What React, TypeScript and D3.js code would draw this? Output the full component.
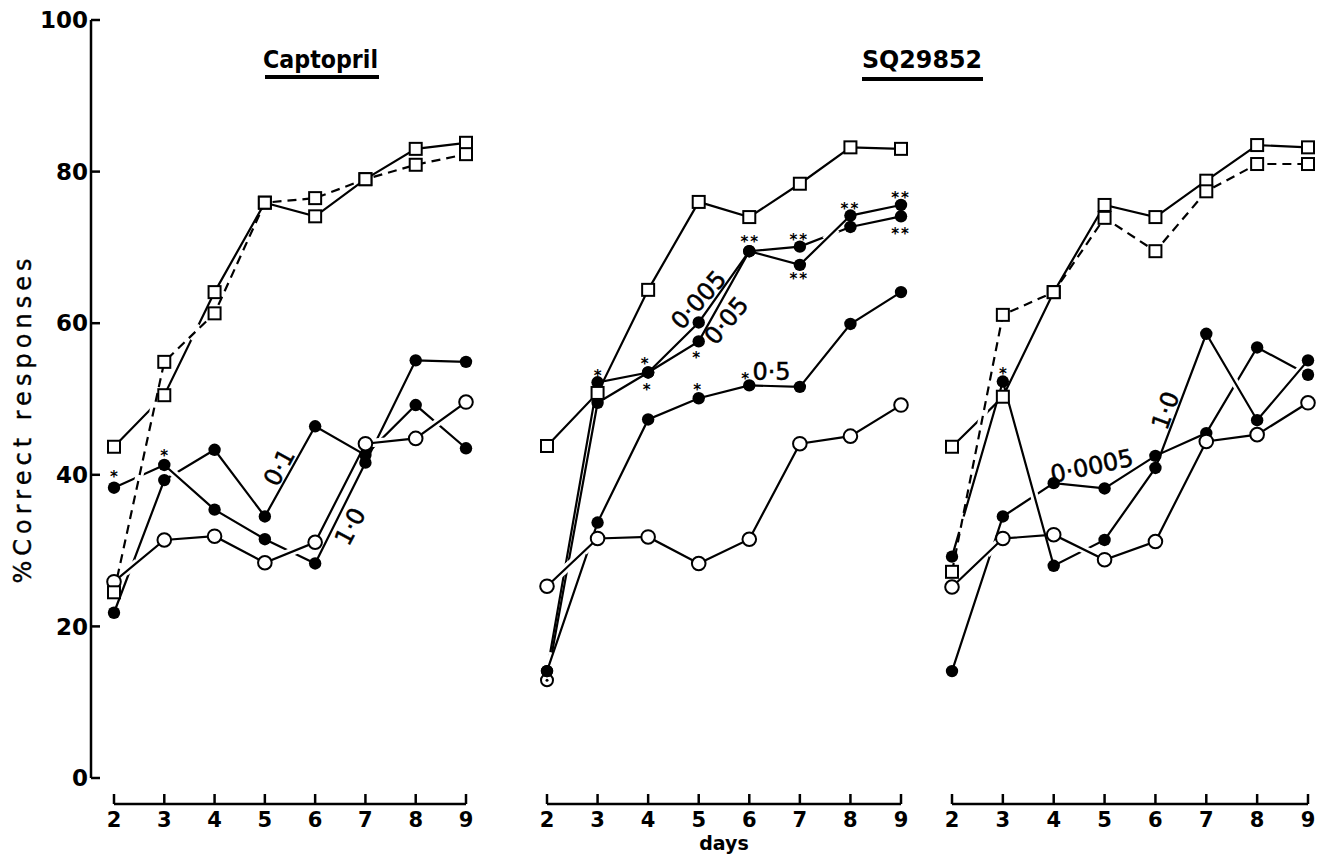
import React from 'react';
import * as d3 from 'd3';

// ---------------- DATA ----------------
const days = [2, 3, 4, 5, 6, 7, 8, 9];
const yTicks = [0, 20, 40, 60, 80, 100];
const yLabel = '%Correct responses';
const xLabel = 'days';

// Panel 1: Captopril
const capControlSolid = [43.7, 50.5, 64.1, 75.9, 74.1, 79.0, 83.0, 83.8];
const capControlDashed = [24.5, 54.9, 61.3, 75.9, 76.5, 79.0, 80.9, 82.3];
const capSaline = [25.9, 31.4, 31.9, 28.4, 31.1, 44.1, 44.8, 49.6];
const capDose01 = [21.8, 39.3, 43.3, 34.5, 46.4, 42.6, 49.2, 43.5];
const capDose10 = [38.3, 41.3, 35.4, 31.5, 28.3, 41.6, 55.1, 54.9];

// Panel 2: SQ29852 (left)
const sqControl = [43.8, 50.8, 64.4, 76.0, 74.0, 78.4, 83.2, 83.0];
const sqSaline = [25.3, 31.6, 31.8, 28.3, 31.5, 44.1, 45.1, 49.2];
const sqDose0005 = [14.1, 52.2, 53.5, 60.1, 69.5, 70.1, 72.7, 74.1];
const sqDose005 = [12.9, 49.5, 53.5, 57.6, 69.5, 67.7, 74.2, 75.6];
const sqDose05 = [14.1, 33.7, 47.3, 50.1, 51.8, 51.6, 59.9, 64.1];

// Panel 3: SQ29852 (right)
const sq2ControlSolid = [43.7, 50.3, 64.1, 75.6, 74.0, 78.8, 83.5, 83.2];
const sq2ControlDashed = [27.2, 61.1, 64.1, 73.9, 69.5, 77.4, 81.0, 81.0];
const sq2Saline = [25.2, 31.6, 32.1, 28.8, 31.2, 44.4, 45.3, 49.5];
const sq2Dose00005 = [14.1, 34.5, 38.9, 38.2, 42.5, 45.5, 56.8, 53.2];
const sq2Dose10 = [29.2, 52.3, 28.0, 31.4, 40.9, 58.6, 47.2, 55.1];

// curve labels: [text, day, value, rotation]
const capLabels: [string, number, number, number][] = [
  ['0·1', 5.28, 41.0, -61],
  ['1·0', 6.69, 33.2, -62],
];
const sqLabels: [string, number, number, number][] = [
  ['0·005', 4.99, 63.1, -48],
  ['0·05', 5.54, 60.4, -50],
  ['0·5', 6.44, 53.6, 0],
];
const sq2Labels: [string, number, number, number][] = [
  ['0·0005', 4.75, 41.2, -12],
  ['1·0', 6.19, 48.5, -70],
];

// significance marks: [text, day, value]
const capStars: [string, number, number][] = [
  ['*', 2, 40.2],
  ['*', 3, 43.0],
];
const sqStars: [string, number, number][] = [
  ['*', 3, 53.6],
  ['*', 3.93, 55.1],
  ['*', 3.97, 51.7],
  ['*', 4.95, 55.9],
  ['*', 4.97, 51.7],
  ['*', 5.92, 53.2],
  ['**', 6.02, 71.2],
  ['**', 6.99, 71.5],
  ['**', 6.99, 66.4],
  ['**', 8.0, 75.6],
  ['**', 9.0, 77.0],
  ['**', 9.0, 72.3],
];
const sq2Stars: [string, number, number][] = [['*', 3, 53.8]];

// special overlapped marker (dotted circle) in panel 2
const sqDottedPoint: [number, number] = [2, 12.9];

type Marker = 'square' | 'open' | 'filled';
interface Series {
  values: number[];
  marker: Marker;
  dashed?: boolean;
}

const panels = [
  {
    range: [114, 466],
    series: [
      { values: capDose01, marker: 'filled' },
      { values: capDose10, marker: 'filled' },
      { values: capControlSolid, marker: 'square' },
      { values: capSaline, marker: 'open' },
      { values: capControlDashed, marker: 'square', dashed: true },
    ] as Series[],
    labels: capLabels,
    stars: capStars,
  },
  {
    range: [547, 901],
    series: [
      { values: sqDose0005, marker: 'filled' },
      { values: sqDose005, marker: 'filled' },
      { values: sqDose05, marker: 'filled' },
      { values: sqSaline, marker: 'open' },
      { values: sqControl, marker: 'square' },
    ] as Series[],
    labels: sqLabels,
    stars: sqStars,
  },
  {
    range: [952, 1308],
    series: [
      { values: sq2Dose00005, marker: 'filled' },
      { values: sq2Dose10, marker: 'filled' },
      { values: sq2Saline, marker: 'open' },
      { values: sq2ControlSolid, marker: 'square' },
      { values: sq2ControlDashed, marker: 'square', dashed: true },
    ] as Series[],
    labels: sq2Labels,
    stars: sq2Stars,
  },
];

const FONT = "'DejaVu Sans', Arial, Helvetica, sans-serif";

type P = [number, number];
function intersect(a: P, b: P, c: P, d: P): P | null {
  const r = [b[0] - a[0], b[1] - a[1]];
  const s = [d[0] - c[0], d[1] - c[1]];
  const den = r[0] * s[1] - r[1] * s[0];
  if (Math.abs(den) < 1e-9) return null;
  const t = ((c[0] - a[0]) * s[1] - (c[1] - a[1]) * s[0]) / den;
  const u = ((c[0] - a[0]) * r[1] - (c[1] - a[1]) * r[0]) / den;
  if (t <= 0 || t >= 1 || u <= 0 || u >= 1) return null;
  return [a[0] + t * r[0], a[1] + t * r[1]];
}

export default function App() {
  const W = 1319;
  const H = 856;
  const y = d3.scaleLinear().domain([0, 100]).range([778, 20]);
  const axisX = 91;
  const baseY = 804;

  const renderMarker = (m: Marker, cx: number, cy: number, key: string) => {
    if (m === 'square')
      return <rect key={key} x={cx - 6} y={cy - 6} width={12} height={12} fill="#fff" stroke="#000" strokeWidth={2} />;
    if (m === 'open') return <circle key={key} cx={cx} cy={cy} r={6.8} fill="#fff" stroke="#000" strokeWidth={2} />;
    return <circle key={key} cx={cx} cy={cy} r={6.2} fill="#000" />;
  };

  return (
    <svg width={W} height={H} style={{ position: 'absolute', left: 0, top: 0, background: '#fff' }} fontFamily={FONT}>
      <rect width={W} height={H} fill="#fff" />
      {/* Y axis */}
      <line x1={axisX} x2={axisX} y1={y(100)} y2={y(0)} stroke="#000" strokeWidth={2.5} />
      {yTicks.map((t) => (
        <g key={t}>
          <line x1={axisX} x2={axisX + 9} y1={y(t)} y2={y(t)} stroke="#000" strokeWidth={2.5} />
          <text x={axisX - 3} y={y(t)} dy="0.36em" textAnchor="end" fontSize={23} fontWeight="bold">
            {t}
          </text>
        </g>
      ))}
      <text
        transform={`translate(31,421) rotate(-90)`}
        textAnchor="middle"
        fontSize={24}
        textLength={325}
        lengthAdjust="spacing"
        stroke="#000"
        strokeWidth={0.4}
      >
        {yLabel}
      </text>

      {/* Titles */}
      <text x={263} y={68} fontSize={24} fontWeight="bold" textLength={115} lengthAdjust="spacingAndGlyphs">
        Captopril
      </text>
      <rect x={265} y={75} width={114} height={4} fill="#000" />
      <text x={862} y={68} fontSize={24} fontWeight="bold" textLength={120} lengthAdjust="spacingAndGlyphs">
        SQ29852
      </text>
      <rect x={862} y={77} width={121} height={4} fill="#000" />

      {panels.map((p, pi) => {
        const x = d3.scaleLinear().domain([2, 9]).range(p.range);
        const line = d3
          .line<number>()
          .x((_, i) => x(days[i]))
          .y((v) => y(v));
        const pts: P[][] = p.series.map((s) => s.values.map((v, i) => [x(days[i]), y(v)] as P));
        const allPts: P[] = pts.flat();
        allPts.push([x(sqDottedPoint[0]), y(sqDottedPoint[1])]);
        // gaps: where a later series crosses an earlier one, the earlier is interrupted
        const patches: { si: number; a: P; b: P }[] = [];
        pts.forEach((sp, si) => {
          for (let k = 0; k < sp.length - 1; k++) {
            for (let sj = 0; sj < si; sj++) {
              const op = pts[sj];
              for (let m = 0; m < op.length - 1; m++) {
                const X = intersect(sp[k], sp[k + 1], op[m], op[m + 1]);
                if (!X) continue;
                const near = allPts.some((q) => Math.hypot(q[0] - X[0], q[1] - X[1]) < 9);
                if (near) continue;
                const dx = sp[k + 1][0] - sp[k][0];
                const dy = sp[k + 1][1] - sp[k][1];
                const L = Math.hypot(dx, dy);
                const ux = dx / L, uy = dy / L;
                patches.push({ si, a: [X[0] - ux * 8, X[1] - uy * 8], b: [X[0] + ux * 8, X[1] + uy * 8] });
              }
            }
          }
        });
        return (
          <g key={pi}>
            {/* X axis */}
            <line x1={x(2)} x2={x(9)} y1={baseY} y2={baseY} stroke="#000" strokeWidth={2.5} />
            {days.map((d) => (
              <g key={d}>
                <line x1={x(d)} x2={x(d)} y1={baseY} y2={baseY - 10} stroke="#000" strokeWidth={2.5} />
                <text x={x(d)} y={827} textAnchor="middle" fontSize={21} fontWeight="bold">
                  {d}
                </text>
              </g>
            ))}
            {/* lines */}
            {p.series.map((s, si) => (
              <g key={'l' + si}>
                {patches
                  .filter((q) => q.si === si)
                  .map((q, qi) => (
                    <line key={qi} x1={q.a[0]} y1={q.a[1]} x2={q.b[0]} y2={q.b[1]} stroke="#fff" strokeWidth={8} />
                  ))}
                <path
                  d={line(s.values) || ''}
                  fill="none"
                  stroke="#000"
                  strokeWidth={2.2}
                  strokeDasharray={s.dashed ? '9 6' : undefined}
                />
              </g>
            ))}
            {/* special dotted marker */}
            {pi === 1 && (
              <g>
                <circle cx={x(sqDottedPoint[0])} cy={y(sqDottedPoint[1])} r={6} fill="#fff" stroke="#000" strokeWidth={2} />
                <circle cx={x(sqDottedPoint[0])} cy={y(sqDottedPoint[1])} r={1.5} fill="#000" />
              </g>
            )}
            {/* markers */}
            {p.series.map((s, si) =>
              s.values.map((v, i) => {
                if (pi === 1 && s.values === sqDose005 && i === 0) return null;
                return renderMarker(s.marker, x(days[i]), y(v), `m${si}-${i}`);
              })
            )}
            {/* labels */}
            {p.labels.map(([t, d, v, r], li) => (
              <text
                key={'t' + li}
                transform={`translate(${x(d)},${y(v)}) rotate(${r})`}
                textAnchor="middle"
                dy="0.36em"
                fontSize={24}
                stroke="#000"
                strokeWidth={0.5}
              >
                {t}
              </text>
            ))}
            {p.stars.map(([t, d, v], k) => (
              <text
                key={'s' + k}
                x={x(d)}
                y={y(v) + 9}
                textAnchor="middle"
                fontSize={15}
                fontWeight="bold"
                letterSpacing={t.length > 1 ? 2 : 0}
              >
                {t}
              </text>
            ))}
          </g>
        );
      })}
      <text x={724} y={850} textAnchor="middle" fontSize={19} fontWeight="bold">
        {xLabel}
      </text>
    </svg>
  );
}
